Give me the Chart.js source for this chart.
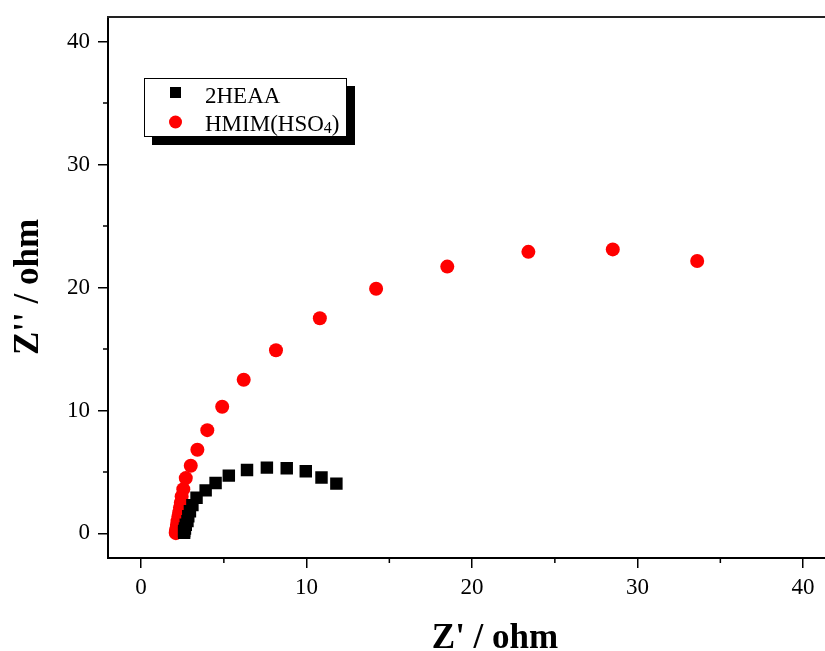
<!DOCTYPE html>
<html>
<head>
<meta charset="utf-8">
<script src="https://cdn.jsdelivr.net/npm/chart.js@4.4.0/dist/chart.umd.min.js"></script>
<style>
html, body { margin: 0; padding: 0; overflow: hidden; background: #fff; }
#wrap { width: 845px; height: 651px; }
</style>
</head>
<body>
<div id="wrap"><canvas id="nyquistChart" width="845" height="651"></canvas></div>
<script>
var heaaRe = [2.6, 2.6, 2.65, 2.7, 2.8, 2.85, 2.95, 3.1, 3.35, 3.9, 4.5, 5.3, 6.4, 7.6, 8.8, 9.95, 10.9, 11.8];
var heaaIm = [0.05, 0.2, 0.4, 0.7, 1.0, 1.4, 1.8, 2.3, 2.9, 3.5, 4.1, 4.7, 5.15, 5.35, 5.3, 5.05, 4.55, 4.05];

var hmimRe = [2.1, 2.1, 2.12, 2.14, 2.17, 2.2, 2.25, 2.3, 2.35, 2.4, 2.45, 2.55, 2.7, 3.0, 3.4, 4.0, 4.9, 6.2, 8.15, 10.8, 14.2, 18.5, 23.4, 28.5, 33.6];
var hmimIm = [0.02, 0.1, 0.25, 0.45, 0.7, 1.0, 1.35, 1.7, 2.1, 2.5, 3.0, 3.6, 4.5, 5.5, 6.8, 8.4, 10.3, 12.5, 14.9, 17.5, 19.9, 21.7, 22.9, 23.1, 22.15];

var seriesNames = ['2HEAA', 'HMIM(HSO4)'];
var axisTitles = ["Z' / ohm", "Z'' / ohm"];
var majorTicks = [0, 10, 20, 30, 40];
var minorTicks = [5, 15, 25, 35];

var serif = '"Liberation Serif", "Times New Roman", serif';

function toPoints(xs, ys) {
    return xs.map((x, i) => ({ x: x, y: ys[i] }));
}

// keep the plot frame where the reference has it
function fixScale(scale, size) {
    if (scale.isHorizontal()) {
        scale.height = size;
    } else {
        scale.width = size;
    }
    scale.paddingTop = 0;
    scale.paddingBottom = 0;
    scale.paddingLeft = 0;
    scale.paddingRight = 0;
}

// Minor ticks, top frame line, axis titles and the boxed legend with a drop shadow
var framePlugin = {
    id: 'frame',
    afterDraw(chart) {
        var ctx = chart.ctx;
        var area = chart.chartArea;
        var xs = chart.scales.x;
        var ys = chart.scales.y;
        ctx.save();
        ctx.strokeStyle = '#000';
        ctx.lineWidth = 1.5;
        ctx.beginPath();
        minorTicks.forEach(v => {
            var px = xs.getPixelForValue(v);
            ctx.moveTo(px, area.bottom);
            ctx.lineTo(px, area.bottom + 5);
            var py = ys.getPixelForValue(v);
            ctx.moveTo(area.left, py);
            ctx.lineTo(area.left - 5, py);
        });
        ctx.stroke();

        // top frame
        ctx.lineWidth = 2;
        ctx.strokeStyle = '#222';
        ctx.beginPath();
        ctx.moveTo(area.left - 1, area.top);
        ctx.lineTo(area.right, area.top);
        ctx.stroke();

        // axis titles
        ctx.fillStyle = '#000';
        ctx.font = 'bold 35px ' + serif;
        ctx.textAlign = 'center';
        ctx.textBaseline = 'alphabetic';
        ctx.fillText(axisTitles[0], 495, 648);
        ctx.save();
        ctx.translate(38, 287);
        ctx.rotate(-Math.PI / 2);
        ctx.fillText(axisTitles[1], 0, 0);
        ctx.restore();

        // legend
        ctx.textAlign = 'left';
        var bx = 144, by = 78, bw = 202, bh = 58;
        ctx.fillStyle = '#000';
        ctx.fillRect(bx + 8, by + 8, bw + 1, bh + 1);
        ctx.fillStyle = '#fff';
        ctx.fillRect(bx, by, bw, bh);
        ctx.strokeStyle = '#000';
        ctx.lineWidth = 1;
        ctx.strokeRect(bx + 0.5, by + 0.5, bw, bh);

        ctx.fillStyle = '#000';
        ctx.fillRect(170, 87, 11, 11);
        ctx.fillStyle = '#ff0000';
        ctx.beginPath();
        ctx.arc(175.5, 122, 6.5, 0, Math.PI * 2);
        ctx.fill();

        ctx.fillStyle = '#000';
        ctx.font = '23px ' + serif;
        ctx.fillText(seriesNames[0], 205, 103);
        var name = seriesNames[1];
        var head = name.slice(0, 8), sub = name.slice(8, 9), tail = name.slice(9);
        ctx.fillText(head, 205, 131);
        var w = ctx.measureText(head).width;
        ctx.font = '16px ' + serif;
        ctx.fillText(sub, 205 + w, 133);
        var w2 = ctx.measureText(sub).width;
        ctx.font = '23px ' + serif;
        ctx.fillText(tail, 205 + w + w2, 131);
        ctx.restore();
    }
};

var ctx = document.getElementById('nyquistChart').getContext('2d');
new Chart(ctx, {
    type: 'scatter',
    data: {
        datasets: [{
            label: seriesNames[0],
            data: toPoints(heaaRe, heaaIm),
            pointStyle: 'rect',
            pointRadius: 8.8,
            backgroundColor: '#000',
            borderColor: '#000',
            borderWidth: 0
        }, {
            label: seriesNames[1],
            data: toPoints(hmimRe, hmimIm),
            pointStyle: 'circle',
            pointRadius: 7,
            backgroundColor: '#ff0000',
            borderColor: '#ff0000',
            borderWidth: 0
        }]
    },
    options: {
        responsive: false,
        animation: false,
        devicePixelRatio: 1,
        layout: { padding: { top: 17, right: 8, left: 0, bottom: 0 } },
        scales: {
            x: {
                type: 'linear',
                min: -2,
                max: 42,
                afterFit: (scale) => fixScale(scale, 93),
                afterBuildTicks: (scale) => { scale.ticks = majorTicks.map(v => ({ value: v })); },
                grid: { display: true, drawOnChartArea: false, drawTicks: true, tickLength: 10, color: '#000', lineWidth: 1.5 },
                border: { display: true, color: '#000', width: 2 },
                ticks: { color: '#000', padding: 6, maxRotation: 0, font: { family: serif, size: 23 } },
                title: { display: false }
            },
            y: {
                type: 'linear',
                min: -2,
                max: 42,
                afterFit: (scale) => fixScale(scale, 108),
                afterBuildTicks: (scale) => { scale.ticks = majorTicks.map(v => ({ value: v })); },
                grid: { display: true, drawOnChartArea: false, drawTicks: true, tickLength: 10, color: '#000', lineWidth: 1.5 },
                border: { display: true, color: '#000', width: 2 },
                ticks: { color: '#000', padding: 8, font: { family: serif, size: 23 } },
                title: { display: false }
            }
        },
        plugins: {
            legend: { display: false },
            tooltip: { enabled: false }
        }
    },
    plugins: [framePlugin]
});
</script>
</body>
</html>
